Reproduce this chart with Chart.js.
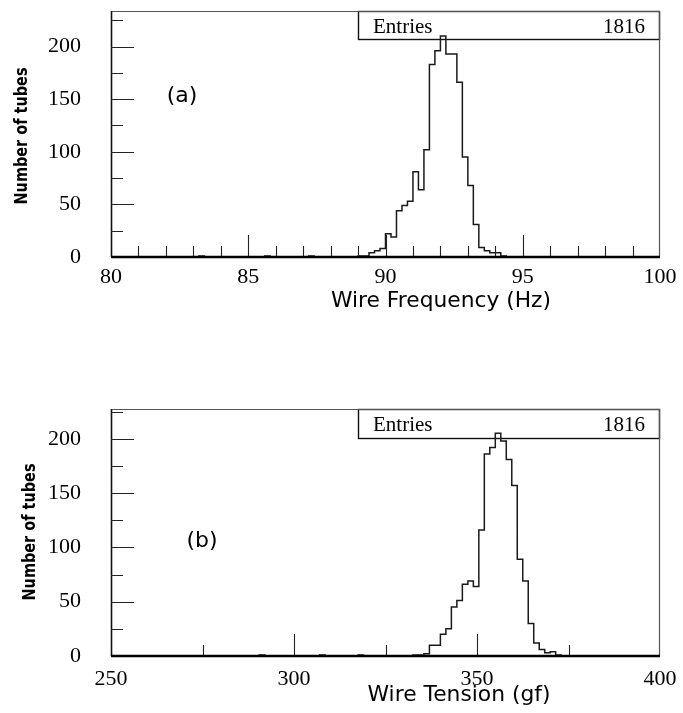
<!DOCTYPE html>
<html>
<head>
<meta charset="utf-8">
<script src="https://cdn.jsdelivr.net/npm/chart.js@4.4.1/dist/chart.umd.min.js"></script>
<style>
  html, body { margin: 0; padding: 0; background: #fff; }
  #wrap { position: relative; width: 683px; height: 713px; }
  canvas { position: absolute; left: 0; }
  #c1 { top: 0; }
  #c2 { top: 355px; }
</style>
</head>
<body>
<div id="wrap">
  <canvas id="c1" width="683" height="355"></canvas>
  <canvas id="c2" width="683" height="358"></canvas>
</div>
<script>
// ---- (a) wire frequency: 0.2 Hz bins, counts listed from the 83.2 Hz bin ----
const freqRange = [80, 100];
const freqBinWidth = 0.2;
const freqFirstBin = 83.2;
const freqCounts = [
  1, 0, 0, 0, 0, 0, 0, 0, 0, 0, 0, 0,        // 83.2 - 85.4
  1, 0, 0, 0, 0, 0, 0, 0,                    // 85.6 - 87.0
  1, 0, 0, 0, 0, 0, 0, 0, 0,                 // 87.2 - 88.8
  1, 1, 4, 6, 8,                             // 89.0 - 89.8
  22, 19, 44, 49, 53,                        // 90.0 - 90.8
  81, 64, 102, 183, 196,                     // 91.0 - 91.8
  210, 193, 193, 166, 95,                    // 92.0 - 92.8
  68, 31, 9, 6, 4,                           // 93.0 - 93.8
  4, 1                                       // 94.0 - 94.2
];
const freqEntries = 1816;
const freqMajorTicks = [80, 85, 90, 95, 100];
const freqMinorTicks = [81, 82, 83, 84, 86, 87, 88, 89, 91, 92, 93, 94, 96, 97, 98, 99];

// ---- (b) wire tension: 1.5 gf bins, counts listed from the 290.5 gf bin ----
const tensionRange = [250, 400];
const tensionBinWidth = 1.5;
const tensionFirstBin = 290.5;
const tensionCounts = [
  1, 0, 0, 0, 0, 0, 0, 0, 0, 0, 0,           // 290.5 - 305.5
  1, 0, 0, 0, 0, 0, 0,                       // 307.0 - 316.0
  1, 0, 0, 0, 0, 0, 0, 0, 0, 0,              // 317.5 - 331.0
  1, 1, 2, 10, 10,                           // 332.5 - 338.5
  20, 25, 45, 51, 66,                        // 340.0 - 346.0
  69, 64, 116, 186, 192,                     // 347.5 - 353.5
  205, 198, 181, 157, 89,                    // 355.0 - 361.0
  69, 30, 12, 6, 3,                          // 362.5 - 368.5
  4, 1                                       // 370.0 - 371.5
];
const tensionEntries = 1816;
const tensionMajorTicks = [250, 300, 350, 400];
const tensionMinorTicks = [275, 325, 375];

// ---- shared count axis ----
const countMajorTicks = [0, 50, 100, 150, 200];
const countMinorTicks = [25, 75, 125, 175, 225];

const SERIF = '"Liberation Serif", "Times New Roman", serif';
const SANS = '"DejaVu Sans", sans-serif';

// Step outline points: one point per bin lower edge, closed at the upper range edge.
function histogramPoints(range, width, firstBin, counts) {
  const n = Math.round((range[1] - range[0]) / width);
  const offset = Math.round((firstBin - range[0]) / width);
  const pts = [];
  for (let i = 0; i < n; i++) {
    const k = i - offset;
    const c = (k >= 0 && k < counts.length) ? counts[k] : 0;
    pts.push({ x: range[0] + i * width, y: c });
  }
  pts.push({ x: range[1], y: 0 });
  return pts;
}

// Text helper: optional rotation and horizontal fit to a target width.
function drawText(ctx, text, x, y, o) {
  ctx.save();
  ctx.font = o.font;
  ctx.fillStyle = o.color || '#000';
  ctx.textAlign = o.align || 'center';
  ctx.textBaseline = o.baseline || 'middle';
  ctx.translate(x, y);
  if (o.rotate) ctx.rotate(o.rotate);
  if (o.width) {
    const w = ctx.measureText(text).width;
    ctx.scale(o.width / w, 1);
  }
  ctx.fillText(text, 0, 0);
  ctx.restore();
}

function panelPlugin(p) {
  return {
    id: 'panel_' + p.tag,
    beforeDatasetsDraw(chart) {
      const ctx = chart.ctx;
      const a = chart.chartArea;
      // statistics box in the upper right corner
      const bx = p.boxLeft, by = a.top, bw = a.right - p.boxLeft, bh = p.boxHeight;
      ctx.save();
      ctx.fillStyle = '#fff';
      ctx.fillRect(bx, by, bw, bh);
      ctx.strokeStyle = '#111';
      ctx.lineWidth = 1.4;
      ctx.strokeRect(bx + 0.5, by + 0.5, bw - 1, bh - 1);
      ctx.restore();
      drawText(ctx, 'Entries', bx + 15, by + bh / 2 + 1.5, { font: '21px ' + SERIF, align: 'left' });
      drawText(ctx, String(p.entries), a.right - 15, by + bh / 2 + 1.5, { font: '21px ' + SERIF, align: 'right' });
    },
    afterDatasetsDraw(chart) {
      const ctx = chart.ctx;
      const a = chart.chartArea;
      const xs = chart.scales.x, ys = chart.scales.y;
      ctx.save();
      // frame
      ctx.strokeStyle = '#555';
      ctx.lineWidth = 1.2;
      ctx.beginPath();
      ctx.moveTo(a.left, a.top + 0.5); ctx.lineTo(a.right, a.top + 0.5);
      ctx.moveTo(a.right - 0.5, a.top); ctx.lineTo(a.right - 0.5, a.bottom);
      ctx.stroke();
      ctx.strokeStyle = '#111';
      ctx.lineWidth = 1.6;
      ctx.beginPath();
      ctx.moveTo(a.left + 0.5, a.top); ctx.lineTo(a.left + 0.5, a.bottom);
      ctx.stroke();
      // tick marks pointing into the frame (range ends coincide with the frame)
      ctx.strokeStyle = '#222';
      ctx.lineWidth = 1.1;
      ctx.beginPath();
      countMajorTicks.forEach(v => {
        const y = Math.round(ys.getPixelForValue(v)) + 0.5;
        ctx.moveTo(a.left, y); ctx.lineTo(a.left + 23, y);
      });
      countMinorTicks.forEach(v => {
        if (v > ys.max) return;
        const y = Math.round(ys.getPixelForValue(v)) + 0.5;
        ctx.moveTo(a.left, y); ctx.lineTo(a.left + 12, y);
      });
      p.majorX.forEach(v => {
        if (v <= xs.min || v >= xs.max) return;
        const x = Math.round(xs.getPixelForValue(v)) + 0.5;
        ctx.moveTo(x, a.bottom); ctx.lineTo(x, a.bottom - 22);
      });
      p.minorX.forEach(v => {
        const x = Math.round(xs.getPixelForValue(v)) + 0.5;
        ctx.moveTo(x, a.bottom); ctx.lineTo(x, a.bottom - 11);
      });
      ctx.stroke();
      // horizontal axis line
      ctx.strokeStyle = '#000';
      ctx.lineWidth = 2.6;
      ctx.beginPath();
      ctx.moveTo(a.left, a.bottom); ctx.lineTo(a.right, a.bottom);
      ctx.stroke();
      ctx.restore();
    },
    afterDraw(chart) {
      const ctx = chart.ctx;
      drawText(ctx, p.xTitle, p.xTitlePos[0], p.xTitlePos[1], { font: '21px ' + SANS, width: p.xTitleWidth });
      drawText(ctx, 'Number of tubes', p.yTitlePos[0], p.yTitlePos[1],
        { font: 'bold 18px ' + SANS, rotate: -Math.PI / 2, width: 137 });
      drawText(ctx, p.label, p.labelPos[0], p.labelPos[1], { font: '22px ' + SANS });
    }
  };
}

function makeHistogram(canvasId, p) {
  const canvas = document.getElementById(canvasId);
  const H = canvas.height;
  return new Chart(canvas, {
    type: 'line',
    data: {
      datasets: [{
        data: histogramPoints(p.range, p.binWidth, p.firstBin, p.counts),
        stepped: 'before',
        borderColor: '#1a1a1a',
        borderWidth: 1.5,
        pointRadius: 0,
        fill: false,
        tension: 0
      }]
    },
    options: {
      responsive: false,
      animation: false,
      events: [],
      layout: { padding: { left: 0, right: 23, top: p.top, bottom: 0 } },
      plugins: { legend: { display: false }, tooltip: { enabled: false } },
      scales: {
        x: {
          type: 'linear',
          min: p.range[0],
          max: p.range[1],
          afterBuildTicks: s => { s.ticks = p.majorX.map(v => ({ value: v })); },
          afterFit: s => { s.height = H - p.bottom; s.paddingLeft = 0; s.paddingRight = 0; },
          grid: { display: false, drawTicks: false },
          border: { display: false },
          ticks: {
            autoSkip: false, maxRotation: 0, padding: p.xLabelPad, color: '#000',
            font: { family: SERIF, size: 22 },
            callback: v => String(v)
          }
        },
        y: {
          type: 'linear',
          min: 0,
          max: p.yMax,
          afterBuildTicks: s => { s.ticks = countMajorTicks.map(v => ({ value: v })); },
          afterFit: s => { s.width = 111; s.paddingTop = 0; s.paddingBottom = 0; },
          grid: { display: false, drawTicks: false },
          border: { display: false },
          ticks: {
            autoSkip: false, padding: 30, color: '#000',
            font: { family: SERIF, size: 22 },
            callback: v => String(v)
          }
        }
      }
    },
    plugins: [panelPlugin(p)]
  });
}

makeHistogram('c1', {
  tag: 'a',
  range: freqRange, binWidth: freqBinWidth, firstBin: freqFirstBin, counts: freqCounts,
  entries: freqEntries, majorX: freqMajorTicks, minorX: freqMinorTicks,
  top: 11, bottom: 257, yMax: 233.8, xLabelPad: 7,
  boxLeft: 358, boxHeight: 29,
  xTitle: 'Wire Frequency (Hz)', xTitlePos: [441, 302], xTitleWidth: 220,
  yTitlePos: [22, 136],
  label: '(a)', labelPos: [182, 96]
});

makeHistogram('c2', {
  tag: 'b',
  range: tensionRange, binWidth: tensionBinWidth, firstBin: tensionFirstBin, counts: tensionCounts,
  entries: tensionEntries, majorX: tensionMajorTicks, minorX: tensionMinorTicks,
  top: 54, bottom: 301, yMax: 227.4, xLabelPad: 10,
  boxLeft: 358, boxHeight: 30,
  xTitle: 'Wire Tension (gf)', xTitlePos: [459, 341], xTitleWidth: 183,
  yTitlePos: [30, 177],
  label: '(b)', labelPos: [202, 186]
});
</script>
</body>
</html>
